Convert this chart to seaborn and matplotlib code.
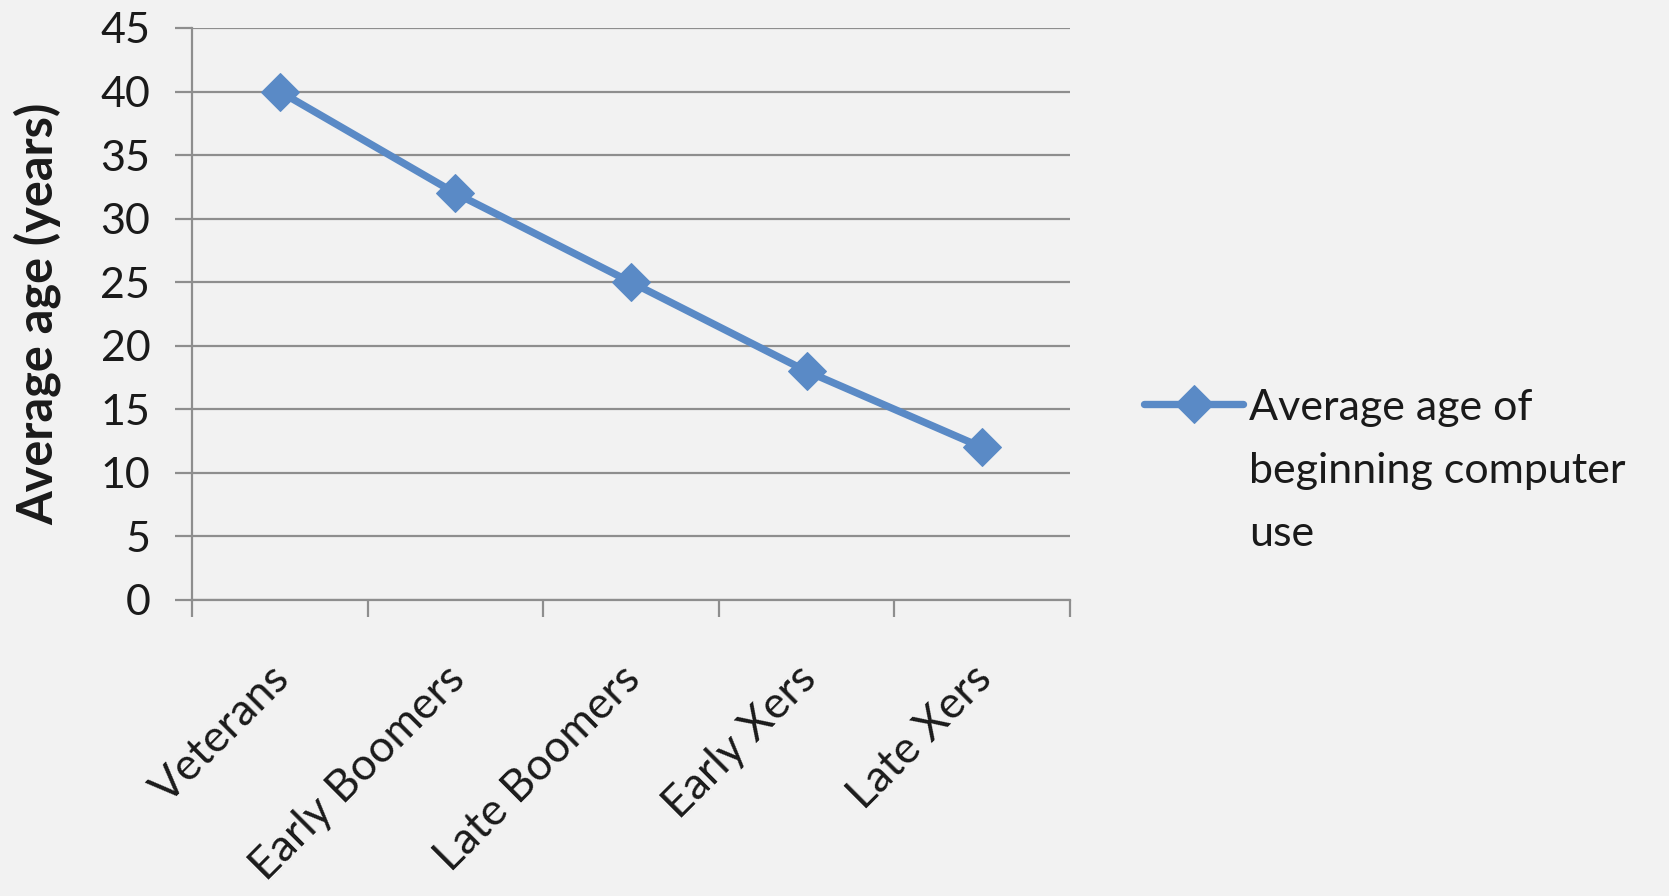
import matplotlib
matplotlib.use("Agg")
import matplotlib.pyplot as plt
import matplotlib.transforms as mtransforms
from matplotlib.ticker import FixedLocator
import pandas as pd
import seaborn as sns

# Data
generations = ["Veterans", "Early Boomers", "Late Boomers", "Early Xers", "Late Xers"]
avg_start_age = [40, 32, 25, 18, 12]
series_label = "Average age of\nbeginning computer\nuse"
y_ticks = [0, 5, 10, 15, 20, 25, 30, 35, 40, 45]

df = pd.DataFrame({"generation": generations, "age": avg_start_age})

sns.set_theme(style="white")
plt.rcParams["font.family"] = ["Lato", "DejaVu Sans"]

BG = "#F2F2F2"
LINE = "#5A8AC6"
GRID = "#8E8E8E"
TEXT = "#1a1a1a"

fig = plt.figure(figsize=(16.69, 8.96), dpi=100, facecolor=BG)
ax = fig.add_axes([0.1150, 0.3304, 0.5261, 0.6384])
ax.set_facecolor(BG)

sns.lineplot(data=df, x="generation", y="age", ax=ax, color=LINE,
             linewidth=5.3, marker="D", markersize=19,
             markeredgecolor=LINE, label=series_label, sort=False)

ax.set_xlim(-0.5, len(generations) - 0.5)
ax.set_ylim(0, 45)
ax.set_yticks(y_ticks)
ax.yaxis.grid(True, color=GRID, linewidth=1.6)
ax.set_axisbelow(True)

for side in ["top", "right"]:
    ax.spines[side].set_visible(False)
for side in ["left", "bottom"]:
    ax.spines[side].set_color(GRID)
    ax.spines[side].set_linewidth(1.6)

# tick marks sit on category boundaries, labels at category centres
ax.xaxis.set_minor_locator(FixedLocator([i - 0.5 for i in range(len(generations) + 1)]))
ax.tick_params(axis="x", which="minor", length=12, width=1.6, color=GRID, bottom=True)
ax.tick_params(axis="x", which="major", length=0, pad=52, labelsize=32, labelcolor=TEXT)
ax.tick_params(axis="y", which="major", length=12, width=1.6, color=GRID, left=True,
               pad=18, labelsize=31, labelcolor=TEXT)

offset = mtransforms.ScaledTranslation(0.03, 0, fig.dpi_scale_trans)
for lab in ax.get_xticklabels():
    lab.set_rotation(45)
    lab.set_ha("right")
    lab.set_va("center")
    lab.set_rotation_mode("anchor")
    lab.set_transform(lab.get_transform() + offset)

ax.set_xlabel("")
ax.set_ylabel("Average age (years)", fontsize=35, fontweight="bold", color=TEXT, labelpad=28)

leg = ax.legend(loc="upper left", bbox_to_anchor=(1144 / 1669, 1 - 389 / 896),
                bbox_transform=fig.transFigure, frameon=False, fontsize=31,
                handlelength=2.3, handletextpad=0.15, borderpad=0, borderaxespad=0)
for t in leg.get_texts():
    t.set_color(TEXT)
    t.set_linespacing(1.81)

# put the legend key level with the first line of its label
for column in leg._legend_handle_box.get_children():
    for item in column.get_children():
        item.align = "top"

fig.savefig("out.png", dpi=100, facecolor=BG)
